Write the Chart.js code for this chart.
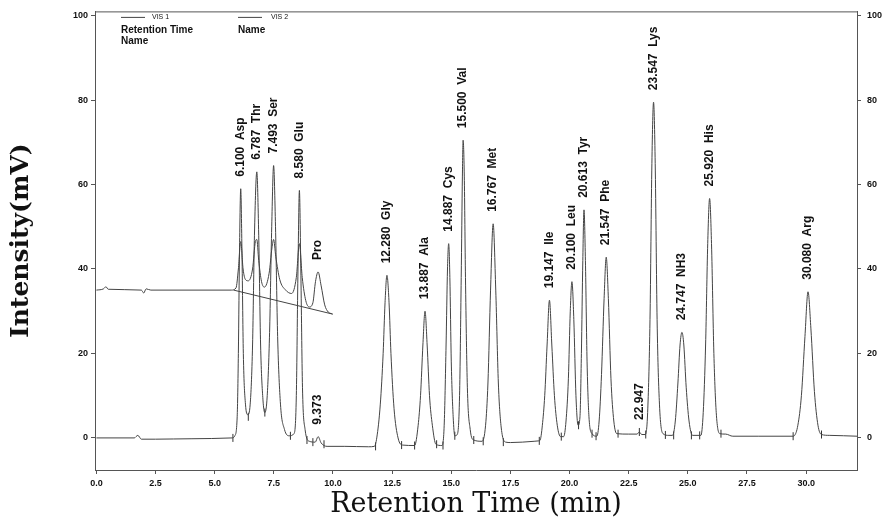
<!DOCTYPE html>
<html>
<head>
<meta charset="utf-8">
<script src="https://cdn.jsdelivr.net/npm/chart.js@4"></script>
<style>
  html, body { margin: 0; padding: 0; background: #ffffff; }
  canvas { display: block; }
</style>
</head>
<body>
<canvas id="chromChart" width="885" height="527"></canvas>
<script>
// x ticks (min) and y ticks (mV)
const xTicks = [0, 2.5, 5, 7.5, 10, 12.5, 15, 17.5, 20, 22.5, 25, 27.5, 30];
const yTicks = [0, 20, 40, 60, 80, 100];

// VIS 1 trace, [time, mV]
const vis1Trace = [
  [0, 0], [1.6, 0], [1.75, 0.6], [1.9, -0.3], [2.5, -0.3], [4, -0.2], [5.75, 0],
  [5.85, 0.5], [5.95, 5], [6.0, 20], [6.05, 45], [6.1, 59], [6.15, 45], [6.21, 20], [6.3, 8], [6.4, 5.5],
  [6.5, 8], [6.6, 22], [6.68, 48], [6.78, 63], [6.86, 48], [6.94, 22], [7.04, 9], [7.12, 6],
  [7.22, 10], [7.32, 25], [7.41, 50], [7.49, 64.5], [7.57, 50], [7.66, 24], [7.78, 8], [7.95, 2], [8.15, 0.5],
  [8.35, 1], [8.45, 10], [8.52, 40], [8.58, 58.6], [8.64, 40], [8.71, 12], [8.82, 2], [9.0, -0.8],
  [9.25, -1], [9.37, 0.3], [9.5, -1.2], [9.75, -2], [10.5, -2], [11.5, -2.1], [11.75, -2],
  [11.85, 0], [12.0, 8], [12.12, 20], [12.2, 32], [12.28, 38.5], [12.37, 32], [12.45, 20], [12.58, 7], [12.75, 0], [12.95, -1.7],
  [13.45, -1.8], [13.6, 3], [13.7, 10], [13.8, 22], [13.89, 30], [13.98, 22], [14.08, 10], [14.2, 3], [14.35, -1.5],
  [14.6, -1.8], [14.7, 3], [14.78, 22], [14.84, 40], [14.89, 46], [14.94, 38], [15.0, 18], [15.08, 5], [15.15, 0.5],
  [15.25, 0.8], [15.35, 10], [15.42, 38], [15.47, 62], [15.5, 70.5], [15.55, 62], [15.6, 38], [15.68, 12], [15.8, 2], [15.95, -0.5],
  [16.3, -0.8], [16.45, 3], [16.55, 13], [16.66, 35], [16.77, 50.7], [16.88, 35], [16.99, 13], [17.1, 3], [17.3, -1],
  [17.5, -1.1], [18.5, -0.8], [18.7, -0.7],
  [18.75, -0.6], [18.85, 3], [18.95, 10], [19.05, 22], [19.15, 32.6], [19.25, 22], [19.36, 10], [19.48, 3], [19.62, 0.3],
  [19.75, 0.3], [19.85, 4], [19.95, 14], [20.03, 30], [20.1, 37], [20.18, 28], [20.27, 10], [20.36, 3],
  [20.44, 5], [20.5, 20], [20.56, 42], [20.61, 54], [20.67, 42], [20.74, 18], [20.82, 5], [20.95, 1],
  [21.15, 0.4], [21.25, 4], [21.35, 15], [21.46, 33], [21.55, 42.8], [21.64, 33], [21.75, 14], [21.87, 4], [22.0, 1], [22.5, 0.9],
  [22.85, 0.9], [22.95, 1.4], [23.05, 0.8],
  [23.2, 0.8], [23.3, 6], [23.4, 28], [23.48, 65], [23.55, 79.5], [23.62, 65], [23.7, 28], [23.8, 8], [23.95, 1], [24.2, 0.6],
  [24.35, 0.6], [24.47, 4], [24.58, 13], [24.67, 22], [24.75, 25], [24.83, 22], [24.93, 12], [25.05, 4], [25.2, 0.6],
  [25.55, 0.6], [25.65, 6], [25.75, 22], [25.84, 46], [25.92, 56.7], [26.0, 46], [26.1, 20], [26.2, 6], [26.35, 1], [26.6, 0.9],
  [26.9, 0.4], [28, 0.4], [29.45, 0.4],
  [29.5, 0.5], [29.65, 3], [29.8, 10], [29.95, 24], [30.08, 34.6], [30.2, 26], [30.35, 11], [30.5, 3], [30.65, 0.8], [31, 0.6], [32.15, 0.4]
];

// VIS 2 trace (offset), stops near 10 min
const vis2Trace = [
  [0, 35], [0.3, 35.3], [0.4, 35.8], [0.5, 35.2], [1.9, 35], [2.0, 34.3], [2.1, 35.3], [2.3, 35], [5.7, 35],
  [5.9, 35.5], [6.0, 40], [6.1, 46.5], [6.2, 40], [6.3, 37.5], [6.42, 37.2],
  [6.6, 40], [6.72, 46.5], [6.78, 47], [6.86, 42], [6.98, 37], [7.1, 35.7],
  [7.3, 39], [7.42, 45], [7.49, 47], [7.58, 43], [7.75, 37.5], [8.0, 35], [8.25, 34.2],
  [8.45, 38], [8.58, 46], [8.7, 38], [8.85, 32.5], [9.0, 31],
  [9.15, 32], [9.26, 37], [9.37, 39.3], [9.5, 36], [9.65, 31.5], [9.8, 29.8], [9.95, 29.4]
];

// integration baseline drawn under the VIS 2 peaks
const vis2Baseline = [[5.8, 35], [10.0, 29.3]];

// peak start / end marks on the VIS 1 baseline
const integMarks = [
  [5.77, 0], [6.42, 5], [7.12, 6], [8.2, 0.5], [8.9, -0.5], [9.15, -1], [9.62, -1.5],
  [11.8, -2], [12.9, -1.7], [13.45, -1.8], [14.38, -1.5], [14.65, -1.8], [15.15, 0.5],
  [15.95, -0.5], [16.35, -0.8], [17.2, -1], [18.72, -0.7], [19.65, 0.3], [20.38, 3],
  [20.95, 1], [21.12, 0.4], [22.05, 1], [22.95, 1.4], [23.22, 0.8], [24.05, 0.7],
  [24.4, 0.6], [25.15, 0.6], [25.5, 0.6], [26.4, 1], [29.45, 0.4], [30.65, 0.8]
];

// peak annotations
const labelTimes = [6.100, 6.787, 7.493, 8.580, 9.373, 9.373, 12.280, 13.887, 14.887, 15.500, 16.767,
  19.147, 20.100, 20.613, 21.547, 22.947, 23.547, 24.747, 25.920, 30.080];
const labelHeights = [59, 63, 64.5, 58.6, 39.3, 0.3, 38.5, 30, 46, 70.5, 50.7,
  32.6, 37, 54, 42.8, 1.4, 79.5, 25, 56.7, 34.6];
const labelTexts = ['6.100  Asp', '6.787  Thr', '7.493  Ser', '8.580  Glu', 'Pro', '9.373', '12.280  Gly',
  '13.887  Ala', '14.887  Cys', '15.500  Val', '16.767  Met', '19.147  Ile', '20.100  Leu', '20.613  Tyr',
  '21.547  Phe', '22.947', '23.547  Lys', '24.747  NH3', '25.920  His', '30.080  Arg'];

const traceColor = '#444444';
const axisColor = '#555555';
const tickFont = { family: 'Liberation Sans, Arial, sans-serif', size: 9, weight: 'bold' };

// peak labels, rotated, sitting just above each apex
const peakLabels = {
  id: 'peakLabels',
  afterDatasetsDraw(chart) {
    const ctx = chart.ctx;
    const xs = chart.scales.x;
    const ys = chart.scales.y;
    ctx.save();
    ctx.fillStyle = '#111';
    ctx.font = 'bold 12px "Liberation Sans Narrow", "Liberation Sans", Arial, sans-serif';
    ctx.textAlign = 'left';
    ctx.textBaseline = 'middle';
    labelTexts.forEach((txt, i) => {
      const px = xs.getPixelForValue(labelTimes[i]);
      const py = ys.getPixelForValue(labelHeights[i]) - 12;
      ctx.save();
      ctx.translate(px, py);
      ctx.rotate(-Math.PI / 2);
      ctx.fillText(txt, 0, 0);
      ctx.restore();
    });
    ctx.restore();
  }
};

// box top edge + the little legend block in the corner
const frameAndLegend = {
  id: 'frameAndLegend',
  afterDraw(chart) {
    const ctx = chart.ctx;
    const a = chart.chartArea;
    ctx.save();
    ctx.strokeStyle = axisColor;
    ctx.lineWidth = 1;
    ctx.beginPath();
    ctx.moveTo(a.left, a.top + 0.5);
    ctx.lineTo(a.right, a.top + 0.5);
    ctx.stroke();

    const lx = a.left + 26;
    const ly = a.top + 6;
    ctx.strokeStyle = traceColor;
    ctx.beginPath();
    ctx.moveTo(lx, ly); ctx.lineTo(lx + 24, ly);
    ctx.moveTo(lx + 117, ly); ctx.lineTo(lx + 141, ly);
    ctx.stroke();
    ctx.fillStyle = '#111';
    ctx.textBaseline = 'middle';
    ctx.font = '7px "Liberation Sans", Arial, sans-serif';
    ctx.fillText('VIS 1', lx + 31, ly);
    ctx.fillText('VIS 2', lx + 150, ly);
    ctx.font = 'bold 10px "Liberation Sans", Arial, sans-serif';
    ctx.fillText('Retention Time', lx, ly + 13);
    ctx.fillText('Name', lx, ly + 24);
    ctx.fillText('Name', lx + 117, ly + 13);
    ctx.restore();
  }
};

function fixedTicks(values) {
  return scale => { scale.ticks = values.map(v => ({ value: v })); };
}

const ctx = document.getElementById('chromChart').getContext('2d');
new Chart(ctx, {
  type: 'line',
  data: {
    datasets: [
      { label: 'VIS 1', data: vis1Trace, borderColor: traceColor, borderWidth: 1, pointRadius: 0, cubicInterpolationMode: 'monotone' },
      { label: 'VIS 2', data: vis2Trace, borderColor: traceColor, borderWidth: 1, pointRadius: 0, cubicInterpolationMode: 'monotone' },
      { label: 'baseline', data: vis2Baseline, borderColor: traceColor, borderWidth: 1, pointRadius: 0 },
      {
        label: 'marks', data: integMarks, showLine: false, borderColor: '#333', borderWidth: 1,
        pointStyle: 'line', rotation: 90, pointRadius: 4
      }
    ]
  },
  options: {
    responsive: false,
    animation: false,
    devicePixelRatio: 1,
    layout: { padding: { top: 10, right: 0, bottom: 0, left: 0 } },
    plugins: { legend: { display: false }, tooltip: { enabled: false } },
    scales: {
      x: {
        type: 'linear',
        min: -0.06,
        max: 32.15,
        afterBuildTicks: fixedTicks(xTicks),
        afterFit: s => { s.height = 57; },
        grid: { drawOnChartArea: false, tickLength: 4, color: axisColor },
        border: { color: axisColor },
        ticks: { color: '#111', font: tickFont, padding: 4, maxRotation: 0, callback: v => v.toFixed(1) },
        title: {
          display: true,
          text: 'Retention Time (min)',
          color: '#111',
          font: { family: '"DejaVu Serif", serif', size: 27 },
          padding: { top: 0, bottom: 6 }
        }
      },
      y: {
        type: 'linear',
        position: 'left',
        min: -7.6,
        max: 101,
        afterBuildTicks: fixedTicks(yTicks),
        afterFit: s => { s.width = 95; },
        grid: { drawOnChartArea: false, tickLength: 4, color: axisColor },
        border: { color: axisColor },
        ticks: { color: '#111', font: tickFont, padding: 3 },
        title: {
          display: true,
          text: 'Intensity(mV)',
          color: '#111',
          font: { family: '"DejaVu Serif", serif', size: 25, weight: 'bold' },
          padding: { top: 6, bottom: 0 }
        }
      },
      y2: {
        type: 'linear',
        position: 'right',
        min: -7.6,
        max: 101,
        afterBuildTicks: fixedTicks(yTicks),
        afterFit: s => { s.width = 28; },
        grid: { drawOnChartArea: false, tickLength: 4, color: axisColor },
        border: { color: axisColor },
        ticks: { color: '#111', font: tickFont, padding: 6 }
      }
    }
  },
  plugins: [peakLabels, frameAndLegend]
});
</script>
</body>
</html>
